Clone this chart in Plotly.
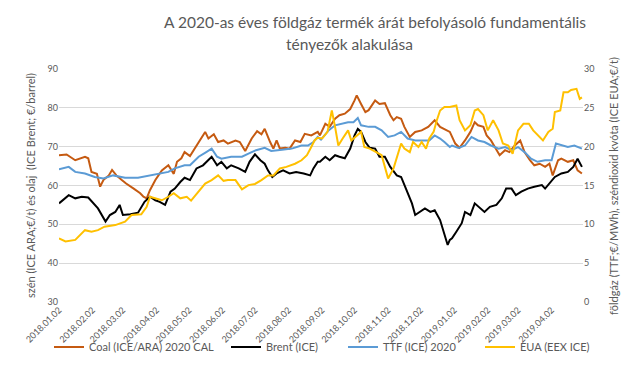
import plotly.graph_objects as go

# ---------------- data ----------------
coal_dates = ["2018-01-02","2018-01-09","2018-01-17","2018-01-26","2018-01-29","2018-02-01","2018-02-06","2018-02-09",
 "2018-02-12","2018-02-17","2018-02-20","2018-02-24","2018-03-01","2018-03-05","2018-03-12","2018-03-18","2018-03-21",
 "2018-03-24","2018-03-27","2018-04-01","2018-04-07","2018-04-13","2018-04-18","2018-04-21","2018-04-25","2018-04-28",
 "2018-05-03","2018-05-08","2018-05-12","2018-05-17","2018-05-20","2018-05-25","2018-05-29","2018-06-03","2018-06-07",
 "2018-06-14","2018-06-18","2018-06-23","2018-06-29","2018-07-04","2018-07-08","2018-07-11","2018-07-16","2018-07-19",
 "2018-07-22","2018-07-25","2018-07-30","2018-08-03","2018-08-08","2018-08-13","2018-08-17","2018-08-23","2018-08-29",
 "2018-08-31","2018-09-05","2018-09-09","2018-09-14","2018-09-18","2018-09-23","2018-09-28","2018-10-02","2018-10-04",
 "2018-10-08","2018-10-12","2018-10-15","2018-10-21","2018-10-25","2018-10-30","2018-11-04","2018-11-07","2018-11-10",
 "2018-11-14","2018-11-17","2018-11-22","2018-11-27","2018-12-03","2018-12-09","2018-12-15","2018-12-20","2018-12-24",
 "2018-12-29","2019-01-03","2019-01-07","2019-01-12","2019-01-17","2019-01-21","2019-01-24","2019-01-29","2019-02-01",
 "2019-02-05","2019-02-10","2019-02-13","2019-02-18","2019-02-22","2019-02-27","2019-03-04","2019-03-08","2019-03-13",
 "2019-03-17","2019-03-22","2019-03-27","2019-03-31","2019-04-03","2019-04-08","2019-04-11","2019-04-17","2019-04-22",
 "2019-04-26","2019-04-30"]
coal = [67.8,68.0,66.5,67.4,67.0,63.5,63.0,59.7,61.4,62.6,64.0,62.6,61.4,60.5,59.2,58.0,57.1,56.7,58.8,61.4,63.9,65.2,
 63.0,66.1,67.0,68.6,67.6,69.7,71.6,73.8,72.1,73.2,71.2,71.6,70.8,71.6,71.2,68.9,72.1,74.0,73.2,74.6,71.2,69.5,71.6,
 69.5,69.7,69.5,71.6,71.2,73.3,72.9,73.8,72.9,75.9,75.1,77.2,78.1,78.5,79.7,81.9,83.2,81.0,78.9,79.4,81.9,81.0,81.2,
 78.1,76.8,77.6,77.2,75.1,72.5,73.8,74.2,75.1,76.8,75.1,74.6,73.8,70.8,69.7,71.6,73.8,76.3,75.5,75.1,72.9,71.6,69.1,
 67.8,69.1,68.6,70.3,71.6,68.6,66.5,65.2,65.6,64.8,65.6,62.6,66.5,66.9,66.1,66.5,63.9,63.1]

brent_dates = ["2018-01-02","2018-01-11","2018-01-17","2018-01-23","2018-01-29","2018-02-03","2018-02-07","2018-02-14",
 "2018-02-18","2018-02-23","2018-02-27","2018-03-02","2018-03-09","2018-03-16","2018-03-22","2018-03-27","2018-04-01",
 "2018-04-05","2018-04-10","2018-04-15","2018-04-19","2018-04-24","2018-04-28","2018-05-03","2018-05-09","2018-05-15",
 "2018-05-20","2018-05-23","2018-05-28","2018-06-01","2018-06-06","2018-06-10","2018-06-17","2018-06-23","2018-06-27",
 "2018-07-02","2018-07-07","2018-07-11","2018-07-14","2018-07-18","2018-07-22","2018-07-28","2018-08-03","2018-08-09",
 "2018-08-16","2018-08-22","2018-08-25","2018-08-29","2018-08-31","2018-09-05","2018-09-09","2018-09-14","2018-09-18",
 "2018-09-23","2018-09-28","2018-10-02","2018-10-05","2018-10-08","2018-10-12","2018-10-16","2018-10-21","2018-10-25",
 "2018-10-30","2018-11-04","2018-11-10","2018-11-14","2018-11-19","2018-11-24","2018-11-27","2018-12-01","2018-12-06",
 "2018-12-11","2018-12-15","2018-12-20","2018-12-23","2018-12-27","2018-12-29","2018-12-31","2019-01-04","2019-01-09",
 "2019-01-12","2019-01-17","2019-01-21","2019-01-26","2019-01-30","2019-02-04","2019-02-10","2019-02-15","2019-02-19",
 "2019-02-24","2019-02-28","2019-03-05","2019-03-11","2019-03-17","2019-03-24","2019-03-27","2019-03-31","2019-04-05",
 "2019-04-11","2019-04-17","2019-04-22","2019-04-26","2019-04-30"]
brent = [55.4,57.5,56.7,57.1,56.9,55.4,54.1,50.7,52.4,53.2,55.0,52.4,52.6,53.0,55.8,57.1,56.2,55.8,55.0,58.4,59.2,60.9,
 62.0,61.4,64.4,65.2,66.5,67.4,65.2,66.1,64.4,65.2,64.4,63.5,66.1,68.0,66.5,65.6,63.9,62.2,63.1,63.9,63.1,63.5,63.1,
 62.6,64.4,66.1,66.1,67.4,66.5,67.8,67.4,67.0,69.5,72.9,74.6,73.8,71.2,69.7,69.5,67.4,67.4,64.8,62.6,62.2,58.8,55.4,
 52.4,53.2,54.1,53.2,53.6,51.1,48.1,44.7,46.0,46.4,48.1,50.3,53.2,52.4,55.4,54.1,53.2,54.5,55.0,56.7,59.2,59.2,57.5,
 58.4,59.2,59.7,60.1,59.2,60.5,62.2,63.1,63.5,64.8,66.9,64.8]

ttf_dates = ["2018-01-02","2018-01-11","2018-01-17","2018-01-26","2018-02-04","2018-02-12","2018-02-21","2018-03-04",
 "2018-03-16","2018-03-26","2018-04-04","2018-04-13","2018-04-19","2018-04-28","2018-05-03","2018-05-11","2018-05-18",
 "2018-05-23","2018-05-28","2018-06-01","2018-06-10","2018-06-20","2018-06-26","2018-07-03","2018-07-11","2018-07-17",
 "2018-07-27","2018-08-05","2018-08-14","2018-08-20","2018-08-25","2018-08-29","2018-09-01","2018-09-08","2018-09-14",
 "2018-09-20","2018-09-26","2018-10-01","2018-10-05","2018-10-08","2018-10-15","2018-10-21","2018-10-27","2018-11-02",
 "2018-11-08","2018-11-14","2018-11-20","2018-11-27","2018-12-03","2018-12-10","2018-12-15","2018-12-20","2018-12-24",
 "2018-12-29","2018-12-31","2019-01-06","2019-01-12","2019-01-18","2019-01-24","2019-01-30","2019-02-05","2019-02-12",
 "2019-02-18","2019-02-24","2019-03-02","2019-03-08","2019-03-14","2019-03-20","2019-03-27","2019-04-02","2019-04-06",
 "2019-04-11","2019-04-17","2019-04-23","2019-04-30"]
ttf = [17.1,17.4,16.75,16.55,16.1,15.9,16.3,16.0,16.0,16.3,16.55,16.75,17.2,17.6,17.6,18.7,19.3,19.75,18.7,18.45,18.7,
 18.7,19.1,19.55,19.85,19.45,19.6,19.75,20.15,20.15,20.6,21.25,20.9,22.1,22.75,22.95,23.15,23.15,23.7,22.75,22.55,
 22.55,22.1,21.25,21.45,21.9,21.05,20.8,20.8,20.8,21.45,21.05,20.6,19.95,20.15,19.85,20.15,21.25,20.8,20.6,20.15,
 19.75,19.95,19.55,19.95,19.3,18.45,18.05,18.25,18.25,20.4,20.15,19.95,20.15,19.75]

eua_dates = ["2018-01-02","2018-01-08","2018-01-17","2018-01-26","2018-02-01","2018-02-07","2018-02-13","2018-02-23",
 "2018-03-04","2018-03-10","2018-03-19","2018-03-24","2018-03-27","2018-04-01","2018-04-07","2018-04-13","2018-04-18",
 "2018-04-24","2018-04-30","2018-05-04","2018-05-11","2018-05-17","2018-05-23","2018-05-29","2018-06-03","2018-06-07",
 "2018-06-14","2018-06-20","2018-06-26","2018-07-02","2018-07-08","2018-07-14","2018-07-19","2018-07-25","2018-07-31",
 "2018-08-08","2018-08-14","2018-08-19","2018-08-23","2018-08-26","2018-08-29","2018-09-02","2018-09-07","2018-09-09",
 "2018-09-11","2018-09-14","2018-09-17","2018-09-21","2018-09-26","2018-09-29","2018-10-04","2018-10-08","2018-10-11",
 "2018-10-16","2018-10-22","2018-10-27","2018-10-30","2018-11-02","2018-11-07","2018-11-11","2018-11-14","2018-11-17",
 "2018-11-22","2018-11-25","2018-11-30","2018-12-03","2018-12-07","2018-12-10","2018-12-14","2018-12-17","2018-12-20",
 "2018-12-24","2018-12-29","2019-01-04","2019-01-07","2019-01-12","2019-01-17","2019-01-21","2019-01-24","2019-01-29",
 "2019-02-02","2019-02-07","2019-02-12","2019-02-16","2019-02-21","2019-02-25","2019-03-02","2019-03-07","2019-03-12",
 "2019-03-16","2019-03-21","2019-03-25","2019-03-30","2019-04-03","2019-04-05","2019-04-10","2019-04-13","2019-04-17",
 "2019-04-20","2019-04-25","2019-04-28","2019-04-30"]
eua = [8.2,7.8,8.0,9.25,9.05,9.25,9.7,9.9,10.35,11.2,11.3,12.25,13.55,13.35,13.1,13.55,14.0,13.35,13.55,13.05,14.2,
 15.25,15.7,16.3,15.6,15.7,15.7,14.5,15.05,15.2,15.7,16.3,16.3,17.2,17.4,17.8,18.25,18.9,19.95,20.8,21.15,21.05,21.9,
 23.15,24.65,22.55,20.15,21.05,22.1,20.8,21.45,21.9,19.95,19.75,19.3,18.9,17.4,15.9,17.2,18.9,20.4,19.75,19.3,20.6,
 19.95,20.6,19.75,21.05,21.9,23.4,24.65,25.1,25.1,25.3,23.4,22.1,22.75,24.65,24.85,24.05,22.1,23.4,22.1,20.4,20.15,
 19.1,22.1,22.95,22.95,22.1,21.45,20.8,21.9,22.3,24.45,24.65,27.0,27.0,27.3,27.45,26.15,26.35]

series_names = ["Coal (ICE/ARA) 2020 CAL", "Brent (ICE)", "TTF (ICE) 2020", "EUA (EEX ICE)"]
left_ticks = [30, 40, 50, 60, 70, 80, 90]
right_ticks = [0, 5, 10, 15, 20, 25, 30]
title_line1 = "A 2020-as éves földgáz termék árát befolyásoló fundamentális"
title_line2 = "tényezők alakulása"
left_title = "szén (ICE ARA;€/t) és olaj  (ICE Brent; €/barrel)"
right_title = "földgáz (TTF;€/MWh), széndioxid kvóta (ICE EUA;€/t)"

# ---------------- figure ----------------
FONT = "Lato, 'Open Sans', sans-serif"
GRAY = "#595959"
L, R, T, B = 59, 57, 69, 76
W, H = 640, 378
pw, ph = W - L - R, H - T - B

fig = go.Figure()
fig.add_trace(go.Scatter(x=coal_dates, y=coal, name=series_names[0], mode="lines",
                         line=dict(color="#C55A11", width=2), legend="legend"))
fig.add_trace(go.Scatter(x=brent_dates, y=brent, name=series_names[1], mode="lines",
                         line=dict(color="#000000", width=2), legend="legend2"))
fig.add_trace(go.Scatter(x=ttf_dates, y=ttf, name=series_names[2], mode="lines", yaxis="y2",
                         line=dict(color="#5B9BD5", width=2), legend="legend3"))
fig.add_trace(go.Scatter(x=eua_dates, y=eua, name=series_names[3], mode="lines", yaxis="y2",
                         line=dict(color="#FFC000", width=2), legend="legend4"))


def px_x(px):
    return (px - L) / pw


def px_y(py):
    return (H - B - py) / ph


leg_common = dict(orientation="h", yanchor="middle", xanchor="left", y=px_y(347),
                  font=dict(family=FONT, size=11, color=GRAY), bgcolor="rgba(0,0,0,0)",
                  itemwidth=30, tracegroupgap=0)

fig.update_layout(
    width=W, height=H,
    margin=dict(l=L, r=R, t=T, b=B, autoexpand=False),
    paper_bgcolor="white", plot_bgcolor="white",
    font=dict(family=FONT, color=GRAY),
    showlegend=True,
    legend=dict(x=px_x(49), **leg_common),
    legend2=dict(x=px_x(226), **leg_common),
    legend3=dict(x=px_x(343), **leg_common),
    legend4=dict(x=px_x(480), **leg_common),
    xaxis=dict(type="date", range=["2018-01-02", "2019-05-01"], tick0="2018-01-02", dtick="M1",
               tickformat="%Y.%m.%d", tickangle=-45, showgrid=False, zeroline=False, automargin=False,
               showline=False, ticks="", tickfont=dict(family=FONT, size=9, color=GRAY)),
    yaxis=dict(range=[30, 90], tickvals=left_ticks, showgrid=True, gridcolor="#D9D9D9", gridwidth=1,
               zeroline=False, showline=False, ticks="", automargin=False,
               tickfont=dict(family=FONT, size=9, color=GRAY)),
    yaxis2=dict(range=[0, 30], tickvals=right_ticks, overlaying="y", side="right", showgrid=False,
                zeroline=False, showline=False, ticks="", automargin=False,
                tickfont=dict(family=FONT, size=9, color=GRAY)),
    annotations=[
        dict(text=title_line1, x=px_x(375), y=px_y(22), xref="paper", yref="paper", showarrow=False,
             xanchor="center", yanchor="middle", font=dict(family=FONT, size=15.5, color=GRAY)),
        dict(text=title_line2, x=px_x(349), y=px_y(44), xref="paper", yref="paper", showarrow=False,
             xanchor="center", yanchor="middle", font=dict(family=FONT, size=15.5, color=GRAY)),
        dict(text=left_title, x=px_x(30), y=px_y(186), xref="paper", yref="paper", showarrow=False,
             textangle=-90, xanchor="center", yanchor="middle", font=dict(family=FONT, size=11, color=GRAY)),
        dict(text=right_title, x=px_x(613), y=px_y(186), xref="paper", yref="paper", showarrow=False,
             textangle=-90, xanchor="center", yanchor="middle", font=dict(family=FONT, size=11, color=GRAY)),
    ],
)

fig.write_html("out.html", config={"displayModeBar": False},
               post_script="document.body.style.margin='0';document.body.style.overflow='hidden';")
